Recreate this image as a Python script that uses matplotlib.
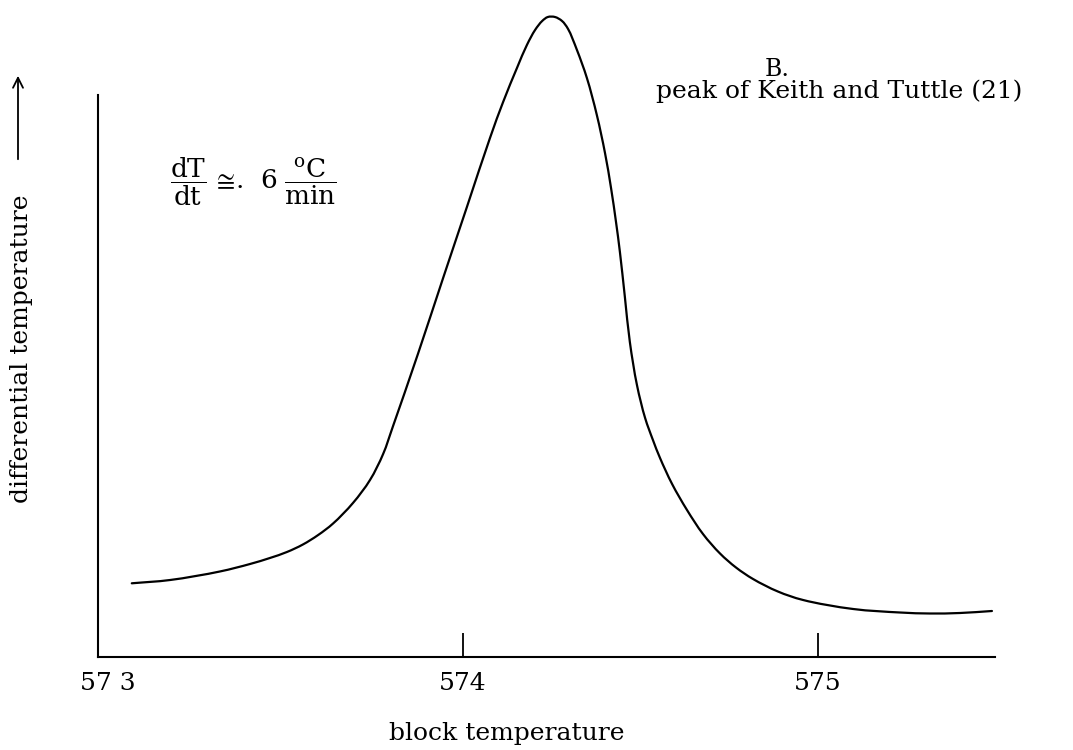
import matplotlib
matplotlib.use("Agg")
import matplotlib.pyplot as plt
from matplotlib.path import Path
from matplotlib.patches import PathPatch

# ---- data (block temperature in deg C, differential temperature in arbitrary units)
block_temp = [573.067, 573.175, 573.315, 573.400, 573.456, 573.504, 573.549, 573.592,
              573.634, 573.690, 573.738, 573.775, 573.803, 573.873, 573.944, 574.011,
              574.076, 574.113, 574.152, 574.180, 574.203, 574.223, 574.239, 574.259,
              574.279, 574.296, 574.321, 574.349, 574.377, 574.400, 574.417, 574.431,
              574.442, 574.456, 574.470, 574.490, 574.513, 574.535, 574.555, 574.589,
              574.631, 574.676, 574.724, 574.769, 574.817, 574.887, 574.958, 575.099,
              575.231, 575.315, 575.400, 575.490]
diff_temp = [0.737, 0.770, 0.855, 0.93, 0.99, 1.05, 1.125, 1.22,
             1.335, 1.54, 1.77, 2.03, 2.31, 3.03, 3.79, 4.50,
             5.19, 5.55, 5.89, 6.12, 6.27, 6.36, 6.40, 6.40,
             6.36, 6.28, 6.07, 5.79, 5.42, 5.04, 4.69, 4.35,
             4.05, 3.60, 3.15, 2.72, 2.39, 2.17, 1.99, 1.73,
             1.47, 1.23, 1.035, 0.895, 0.78, 0.655, 0.57, 0.48,
             0.445, 0.435, 0.44, 0.46]
tick_values = [573, 574, 575]
tick_labels = ["57 3", "574", "575"]

plt.rcParams['font.family'] = ['DejaVu Serif']
plt.rcParams['mathtext.fontset'] = 'dejavuserif'

W, H = 1073, 750
fig = plt.figure(figsize=(W / 100, H / 100), dpi=100)
ax = fig.add_axes([98 / W, 1 - 657 / H, (995 - 98) / W, (657 - 95) / H])

ax.set_xlim(574 - (463 - 98) / 355, 574 + (995 - 463) / 355)
ax.set_ylim(0, (657 - 95) / 100)

# smooth centripetal Catmull-Rom drawing through the read points (in display space)
disp = ax.transData.transform(list(zip(block_temp, diff_temp)))
pts = [tuple(p) for p in disp]
n = len(pts)


def dist(a, b):
    return max(((a[0] - b[0]) ** 2 + (a[1] - b[1]) ** 2) ** 0.25, 1e-6)


verts = [pts[0]]
codes = [Path.MOVETO]
for i in range(n - 1):
    p1, p2 = pts[i], pts[i + 1]
    d2 = dist(p1, p2)
    if i > 0:
        p0 = pts[i - 1]
        d1 = dist(p0, p1)
        c1 = tuple((d1 ** 2 * p2[k] - d2 ** 2 * p0[k] + (2 * d1 ** 2 + 3 * d1 * d2 + d2 ** 2) * p1[k])
                   / (3 * d1 * (d1 + d2)) for k in range(2))
    else:
        c1 = tuple(p1[k] + (p2[k] - p1[k]) / 3 for k in range(2))
    if i + 2 < n:
        p3 = pts[i + 2]
        d3 = dist(p2, p3)
        c2 = tuple((d3 ** 2 * p1[k] - d2 ** 2 * p3[k] + (2 * d3 ** 2 + 3 * d3 * d2 + d2 ** 2) * p2[k])
                   / (3 * d3 * (d3 + d2)) for k in range(2))
    else:
        c2 = tuple(p2[k] - (p2[k] - p1[k]) / 3 for k in range(2))
    verts += [c1, c2, p2]
    codes += [Path.CURVE4] * 3
verts_data = ax.transData.inverted().transform(verts)
curve = PathPatch(Path(verts_data, codes), facecolor='none', edgecolor='black',
                  lw=1.6, clip_on=False, capstyle='round', joinstyle='round')
ax.add_patch(curve)

for s in ['top', 'right']:
    ax.spines[s].set_visible(False)
for s in ['left', 'bottom']:
    ax.spines[s].set_linewidth(1.5)

ax.set_yticks([])
ax.set_xticks(tick_values)
ax.set_xticklabels(tick_labels, fontsize=18)
ax.tick_params(axis='x', direction='in', length=17, width=1.3, pad=11)
ax.xaxis.get_major_ticks()[0].tick1line.set_visible(False)

ax.set_xlabel('block temperature', fontsize=18)
ax.xaxis.set_label_coords((507 - 98) / (995 - 98), (657 - 740) / (657 - 95))
ax.xaxis.label.set_verticalalignment('baseline')

# y label with arrow
fig.text(22 / W, 1 - 349 / H, 'differential temperature', rotation=90,
         ha='center', va='center', fontsize=18)
ax.annotate('', xy=(18, H - 73), xytext=(18, H - 162), xycoords='figure pixels',
            textcoords='figure pixels',
            arrowprops=dict(arrowstyle='->', lw=1.3, color='black',
                            mutation_scale=18))

fig.text(777 / W, 1 - 70 / H, 'B.', ha='center', va='center', fontsize=17)
fig.text(839 / W, 1 - 91 / H, 'peak of Keith and Tuttle (21)', ha='center',
         va='center', fontsize=18)
fig.text(170 / W, 1 - 182 / H,
         r'$\dfrac{\mathrm{dT}}{\mathrm{dt}}\,\cong\!.\;\,6\;\dfrac{^{\mathrm{o}}\mathrm{C}}{\mathrm{min}}$',
         ha='left', va='center', fontsize=19)

fig.savefig('out.png', dpi=100)
